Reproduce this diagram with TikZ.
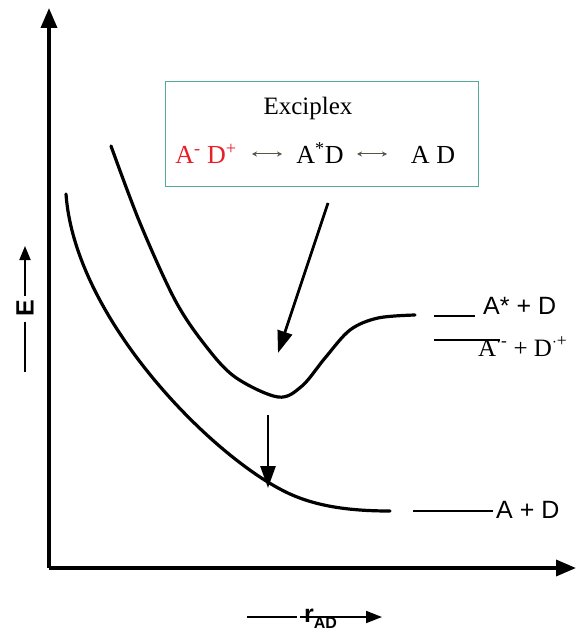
\documentclass[tikz,border=0pt]{standalone}
\usepackage{fontspec}
\setmainfont{Liberation Serif}
\setsansfont{Liberation Sans}
\usetikzlibrary{arrows.meta}
\definecolor{boxteal}{RGB}{80,172,150}
\definecolor{exred}{RGB}{232,30,40}
\definecolor{dblarr}{RGB}{80,88,70}
\begin{document}
\begin{tikzpicture}[x=1pt,y=-1pt,
  axis/.style={line width=3.5pt,-{Triangle[length=20pt,width=16pt]}},
  curve/.style={line width=3.2pt,line join=round,line cap=round},
  bigarrow/.style={line width=2.8pt,-{Triangle[length=22pt,width=15pt]}},
  level/.style={line width=2.6pt},
  lbl/.style={font=\sffamily\fontsize{25}{28}\selectfont,inner sep=0pt,anchor=west},
  serifl/.style={font=\fontsize{25}{28}\selectfont,inner sep=0pt},
  dbl/.style={dblarr,line width=1pt,{Stealth[length=5pt,width=5pt]}-{Stealth[length=5pt,width=5pt]}}]
\useasboundingbox (0,0) rectangle (576,628);
% axes
\coordinate (O) at (49,568);
\coordinate (Ytop) at (49,8);
\coordinate (Xend) at (576,568);
\draw[axis] (O) -- (Ytop);
\draw[axis] (O) -- (Xend);
% E label
\node[font=\sffamily\bfseries\fontsize{25}{27}\selectfont,rotate=90,inner sep=0pt] (E) at (25,308) {E};
\coordinate (Elow) at (25,372);
\coordinate (Ehigh) at (25,246);
\draw[line width=1.8pt] (Elow) -- (25,322);
\draw[line width=1.8pt,-{Triangle[length=14pt,width=11pt]}] (25,296) -- (Ehigh);
% r_AD label
\node[font=\sffamily\bfseries\fontsize{25}{27}\selectfont,inner sep=0pt,anchor=base west] (r) at (304,622) {r\raisebox{-6pt}{\fontsize{16}{18}\selectfont AD}};
\coordinate (rl) at (247,617);
\draw[line width=1.8pt] (rl) -- (297,617);
\coordinate (rr) at (382,617);
\draw[line width=1.8pt,-{Triangle[length=16pt,width=12pt]}] (300,617) -- (rr);
% box
\node[draw=boxteal,line width=1pt,minimum width=313pt,minimum height=105pt,inner sep=0pt] (box) at (321.5,134.5) {};
\node[serifl] (ex) at (308,108) {Exciplex};
\node[serifl,font=\fontsize{26}{28}\selectfont,text=exred,anchor=base] (ad1) at (206,164) {A\textsuperscript{-} D\textsuperscript{+}};
\node[serifl,font=\fontsize{26}{28}\selectfont,anchor=base] (ad2) at (320,164) {A\textsuperscript{*}D};
\node[serifl,font=\fontsize{26}{28}\selectfont,anchor=base] (ad3) at (433,164) {A D};
\coordinate (d1a) at (252,154); \coordinate (d1b) at (282,154);
\coordinate (d2a) at (357,154); \coordinate (d2b) at (387,154);
\draw[dbl] (d1a) -- (d1b);
\draw[dbl] (d2a) -- (d2b);
% curves
\draw[curve] plot[smooth,tension=0.55] coordinates {(111,146) (140,223) (175,300) (205,345) (235,377) (278,397) (302,386) (325,358) (350,330) (378,318) (415,315)};
\draw[curve] (66,194) .. controls (75,320) and (215,460) .. (290,494)
  .. controls (320,507.6) and (355,511) .. (390,511);
% arrows
\coordinate (a1s) at (328,203);
\coordinate (a1e) at (278,353);
\draw[bigarrow] (a1s) -- (a1e);
\coordinate (a2s) at (268,415);
\coordinate (a2e) at (268,488);
\draw[bigarrow] (a2s) -- (a2e);
% levels
\coordinate (l1a) at (434,316); \coordinate (l1b) at (475,316);
\draw[level] (l1a) -- (l1b);
\node[lbl] (t1) at (483,306) {A* + D};
\coordinate (l2a) at (434,340); \coordinate (l2b) at (500,340);
\draw[level] (l2a) -- (l2b);
\node[serifl,anchor=base west] (t2) at (478,356) {A\textsuperscript{$\cdot$-} + D\textsuperscript{$\cdot$+}};
\coordinate (l3a) at (413,511); \coordinate (l3b) at (493,511);
\draw[level] (l3a) -- (l3b);
\node[lbl] (t3) at (496,510) {A + D};
\end{tikzpicture}
\end{document}
